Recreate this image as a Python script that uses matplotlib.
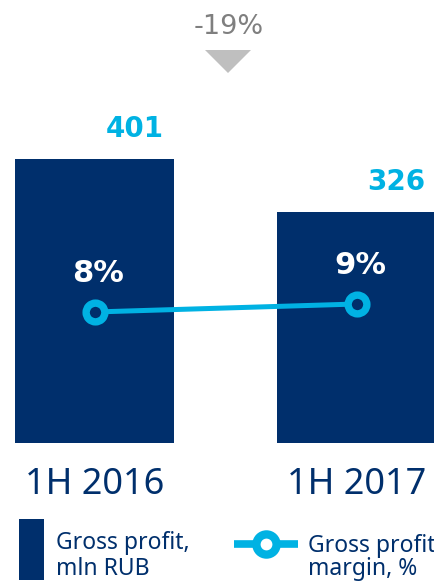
import matplotlib
matplotlib.use("Agg")
import matplotlib.pyplot as plt
from matplotlib.patches import Polygon, Rectangle
from matplotlib.lines import Line2D

# ---- data ----
categories = ["1H 2016", "1H 2017"]
gross_profit = [401, 326]           # mln RUB
gross_margin = [8.0, 9.0]           # %
margin_labels = ["8%", "9%"]
change_label = "-19%"
legend_labels = ["Gross profit,\nmln RUB", "Gross profit\nmargin, %"]

NAVY = "#002F6C"
CYAN = "#00B2E3"
GRAY_TXT = "#7F7F7F"
GRAY_TRI = "#BFBFBF"

W, H = 434, 586
fig = plt.figure(figsize=(W / 100, H / 100), dpi=100)
fig.patch.set_facecolor("white")

def fx(px):
    return px / W

def fy(py):
    return 1 - py / H

# axes: baseline at y=443 px, top at y=100 px, spans full width
base_px, top_px = 443, 100
ax = fig.add_axes([0, fy(base_px), 1, (base_px - top_px) / H])
x = [0, 1]
unit = 262.0           # px between bar centers
c0 = 94.5              # px of first bar center
ax.set_xlim(-c0 / unit, (W - c0) / unit)
ax.set_ylim(0, 401 * (base_px - top_px) / 284)
ax.bar(x, gross_profit, width=159 / unit, color=NAVY, zorder=1)
ax.axis("off")

ax2 = ax.twinx()
ax2.set_position(ax.get_position())
ax2.set_xlim(ax.get_xlim())
ppu = 8.0  # px per margin unit
low = gross_margin[0] - 131 / ppu
ax2.set_ylim(low, low + (base_px - top_px) / ppu)
ax2.plot(x, gross_margin, color=CYAN, lw=3.6, zorder=3, solid_capstyle="butt")
ax2.plot(x, gross_margin, linestyle="none", marker="o", ms=13.5,
         mew=5.3, mec=CYAN, mfc=NAVY, zorder=4)
ax2.axis("off")

# value labels above bars
for xi, v in zip(x, gross_profit):
    ax.annotate(str(v), (xi, v), xytext=(40 / 100 * 72, 22 / 100 * 72),
                textcoords="offset points", ha="center", va="baseline",
                color=CYAN, fontsize=20, fontweight="bold",
                family="DejaVu Sans")

# margin labels above markers
for xi, v, lab in zip(x, gross_margin, margin_labels):
    ax2.annotate(lab, (xi, v), xytext=(4 / 100 * 72, 30 / 100 * 72),
                 textcoords="offset points", ha="center", va="baseline",
                 color="white", fontsize=22, fontweight="bold",
                 family="DejaVu Sans")

# category labels
for xi, lab in zip(x, categories):
    ax.annotate(lab, (xi, 0), xytext=(0.5 / 100 * 72, -51 / 100 * 72),
                textcoords="offset points", ha="center", va="baseline",
                color=NAVY, fontsize=26, family="Noto Sans",
                annotation_clip=False)

# change indicator
fig.text(fx(229), fy(33.5), change_label, ha="center", va="baseline",
         color=GRAY_TXT, fontsize=19.5, family="DejaVu Sans")
fig.patches.append(Polygon([(fx(205), fy(50)), (fx(251), fy(50)), (fx(228), fy(73))],
                           closed=True, transform=fig.transFigure,
                           facecolor=GRAY_TRI, edgecolor="none"))

# legend
fig.patches.append(Rectangle((fx(19), fy(580)), fx(44) - fx(19), fy(519) - fy(580),
                             transform=fig.transFigure, facecolor=NAVY,
                             edgecolor="none"))
l1 = legend_labels[0].split("\n")
fig.text(fx(56), fy(549), l1[0], ha="left", va="baseline", color=NAVY,
         fontsize=16.5, family="Noto Sans")
fig.text(fx(56), fy(575), l1[1], ha="left", va="baseline", color=NAVY,
         fontsize=16.5, family="Noto Sans")
fig.lines.append(Line2D([fx(234), fx(298)], [fy(544), fy(544)],
                        transform=fig.transFigure, color=CYAN, lw=5.5,
                        solid_capstyle="butt"))
fig.lines.append(Line2D([fx(266)], [fy(544)], transform=fig.transFigure,
                        marker="o", ms=14.5, mew=6.0, mec=CYAN, mfc="white",
                        color=CYAN, linestyle="none"))
l2 = legend_labels[1].split("\n")
fig.text(fx(308), fy(552), l2[0], ha="left", va="baseline", color=NAVY,
         fontsize=16.5, family="Noto Sans")
fig.text(fx(308), fy(575), l2[1], ha="left", va="baseline", color=NAVY,
         fontsize=16.5, family="Noto Sans")

fig.savefig("out.png", dpi=100, facecolor="white")
